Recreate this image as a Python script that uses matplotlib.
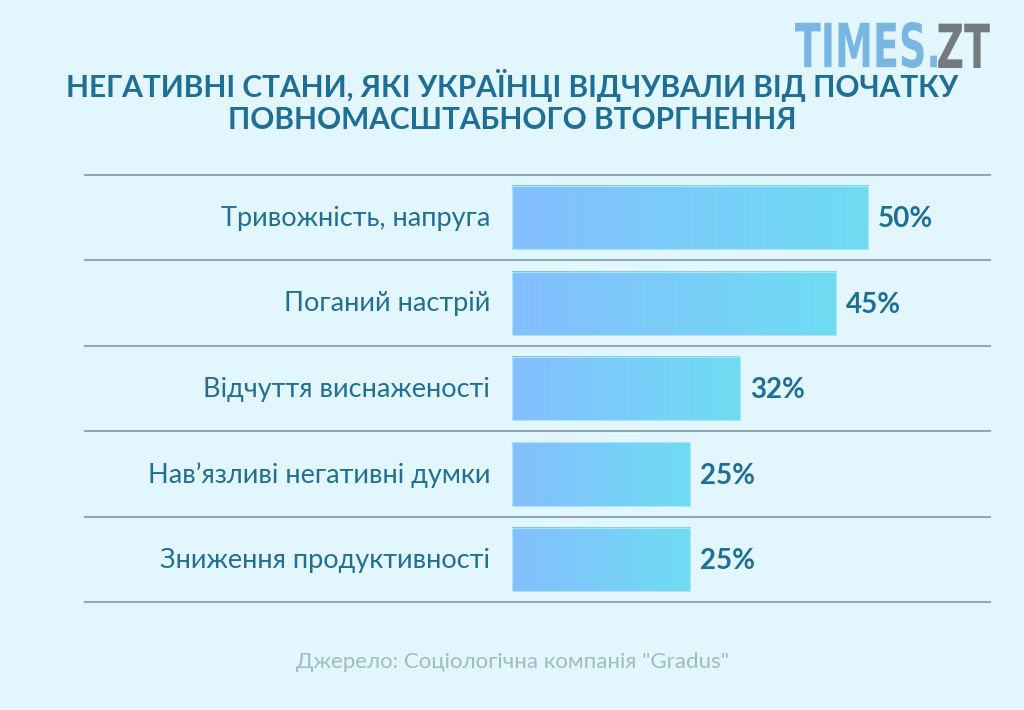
import matplotlib.pyplot as plt
import matplotlib.colors as mcolors
from matplotlib.textpath import TextPath
from matplotlib.patches import PathPatch
from matplotlib.font_manager import FontProperties
from matplotlib.transforms import Affine2D
import numpy as np

categories = [
    "Тривожність, напруга",
    "Поганий настрій",
    "Відчуття виснаженості",
    "Нав’язливі негативні думки",
    "Зниження продуктивності",
]
values = [50, 45.5, 32, 25, 25]
value_labels = ["50%", "45%", "32%", "25%", "25%"]

title = "НЕГАТИВНІ СТАНИ, ЯКІ УКРАЇНЦІ ВІДЧУВАЛИ ВІД ПОЧАТКУ\nПОВНОМАСШТАБНОГО ВТОРГНЕННЯ"
source = 'Джерело: Соціологічна компанія "Gradus"'

bg = "#E2F6FE"
dark = "#1F6F94"
font = ["Lato", "DejaVu Sans"]

fig = plt.figure(figsize=(10.24, 7.10), dpi=100)
fig.patch.set_facecolor(bg)
ax = fig.add_axes([0.083, 0.152, 0.884, 0.6015])
ax.set_facecolor(bg)

px_per_unit = 7.12
xlim = (-(512 - 85) / px_per_unit, (990 - 512) / px_per_unit)

# gradient bars
cmap = mcolors.LinearSegmentedColormap.from_list("bar", ["#85BEFF", "#6FDCF2"])
grad = np.linspace(0, 1, 256).reshape(1, -1)
h = 0.74
for i, v in enumerate(values):
    ax.imshow(grad, cmap=cmap, aspect="auto", extent=[0, v, i + h / 2, i - h / 2],
              zorder=2, interpolation="bicubic")
    ax.add_patch(plt.Rectangle((0, i - h / 2), v, h, fill=False,
                               edgecolor="#A9E6FA", lw=0.8, zorder=3))
    ax.text(v + 1.4, i + 0.02, value_labels[i], ha="left", va="center", fontsize=20,
            fontweight="bold", color=dark, family=font)
    ax.text(-3.1, i + 0.01, categories[i], ha="right", va="center", fontsize=19.5,
            color="#236F92", family=font)

for y in np.arange(-0.5, len(categories), 1.0):
    ax.axhline(y, color="#8FAAB0", lw=1.5, zorder=1, clip_on=False)

ax.set_xlim(*xlim)
ax.set_ylim(len(categories) - 0.5, -0.5)
ax.axis("off")

fig.text(0.5, 0.857, title, ha="center", va="center", fontsize=21.5,
         fontweight="bold", color=dark, family=font, linespacing=1.2)
fig.text(0.5, 0.068, source, ha="center", va="center", fontsize=16,
         color="#9DBDC0", family=font)

# logo, squeezed into its box in pixel space
lax = fig.add_axes([0, 0, 1, 1], zorder=5)
lax.set_xlim(0, 1024)
lax.set_ylim(0, 710)
lax.axis("off")
fp = FontProperties(family="DejaVu Sans", weight="bold")
p1 = TextPath((0, 0), "TIMES.", prop=fp, size=10)
p2 = TextPath((0, 0), "ZT", prop=fp, size=10)
e1 = p1.get_extents()
e2 = p2.get_extents()
gap = 0.3
total_w = e1.x1 + gap + (e2.x1 - e2.x0)
cap_h = e1.y1 - e1.y0
sx = (990 - 795) / total_w
sy = 46 / cap_h
x0, y0 = 795, 710 - 68
t1 = Affine2D().translate(-e1.x0, -e1.y0).scale(sx, sy).translate(x0, y0)
t2 = Affine2D().translate(-e2.x0 + e1.x1 - e1.x0 + gap, -e2.y0).scale(sx, sy).translate(x0, y0)
lax.add_patch(PathPatch(t1.transform_path(p1), color="#79B6E2", lw=0))
lax.add_patch(PathPatch(t2.transform_path(p2), color="#737B80", lw=0))

fig.savefig("out.png", dpi=100, facecolor=bg)
